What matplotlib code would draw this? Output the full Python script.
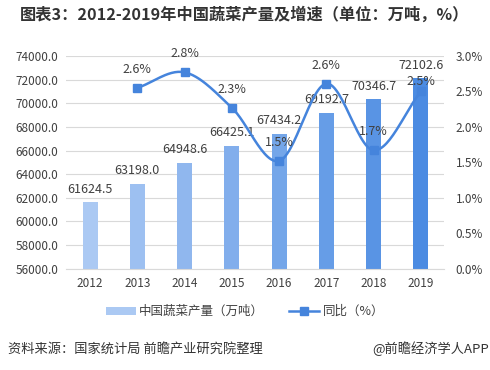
import numpy as np
import matplotlib.pyplot as plt
from matplotlib.colors import LinearSegmentedColormap

plt.rcParams['font.family'] = ['Noto Sans CJK SC', 'DejaVu Sans']

# data
years = ['2012', '2013', '2014', '2015', '2016', '2017', '2018', '2019']
output = [61624.5, 63198.0, 64948.6, 66425.1, 67434.2, 69192.7, 70346.7, 72102.6]
growth = [None, 2.55, 2.77, 2.27, 1.52, 2.61, 1.67, 2.50]
growth_labels = ['', '2.6%', '2.8%', '2.3%', '1.5%', '2.6%', '1.7%', '2.5%']


# Catmull-Rom spline for the smooth line
def smooth(x, y, n=30):
    x = np.asarray(x, float)
    y = np.asarray(y, float)
    px = np.concatenate([[2 * x[0] - x[1]], x, [2 * x[-1] - x[-2]]])
    py = np.concatenate([[2 * y[0] - y[1]], y, [2 * y[-1] - y[-2]]])
    xs, ys = [], []
    t = np.linspace(0, 1, n)
    for i in range(1, len(px) - 2):
        for p, out in ((px, xs), (py, ys)):
            p0, p1, p2, p3 = p[i - 1], p[i], p[i + 1], p[i + 2]
            out.append(0.5 * (2 * p1 + (-p0 + p2) * t
                              + (2 * p0 - 5 * p1 + 4 * p2 - p3) * t ** 2
                              + (-p0 + 3 * p1 - 3 * p2 + p3) * t ** 3))
    return np.concatenate(xs), np.concatenate(ys)


fig = plt.figure(figsize=(4.9, 3.7), dpi=100)
ax = fig.add_axes([0.1357, 0.2738, 0.7714, 0.5748])
ax2 = ax.twinx()

x = np.arange(len(years))
cmap = LinearSegmentedColormap.from_list('b', ['#abc9f3', '#4b8be2'])
colors = [cmap(i / (len(years) - 1)) for i in range(len(years))]
bars = ax.bar(x, output, width=0.32, color=colors, zorder=2, label='中国蔬菜产量（万吨）')
for xi, v in zip(x, output):
    ax.text(xi, v + 550, f'{v:.1f}', ha='center', va='bottom', fontsize=9,
            color='#404040', zorder=5)

ax.set_ylim(56000, 74000)
ax.set_yticks(np.arange(56000, 74001, 2000))
ax.set_yticklabels([f'{v:.1f}' for v in np.arange(56000, 74001, 2000)])
ax.set_xlim(-0.5, len(years) - 0.5)
ax.set_xticks(x)
ax.set_xticklabels(years)
ax.grid(axis='y', color='#d9d9d9', linewidth=0.8, zorder=0)
ax.set_axisbelow(True)

gx = x[1:]
gy = [g for g in growth if g is not None]
sx, sy = smooth(gx, gy)
line_color = '#4584dc'
ax2.plot(sx, sy, color=line_color, linewidth=1.8, zorder=3)
ax2.plot(gx, gy, 's', color=line_color, markersize=5.5, zorder=4)
ax2.plot([], [], '-s', color=line_color, linewidth=1.8, markersize=5.5, label='同比（%）')
for xi, yi, lab in zip(gx, gy, growth_labels[1:]):
    dy = 0.05 if lab == '2.5%' else 0.17
    ax2.text(xi, yi + dy, lab, ha='center', va='bottom', fontsize=9, color='#404040', zorder=5)
ax2.set_ylim(0, 3.0)
ax2.set_yticks(np.arange(0, 3.01, 0.5))
ax2.set_yticklabels([f'{v:.1f}%' for v in np.arange(0, 3.01, 0.5)])

for a in (ax, ax2):
    for s in a.spines.values():
        s.set_visible(False)
    a.tick_params(length=0, labelsize=8.5, colors='#404040')
ax.spines['bottom'].set_visible(True)
ax.spines['bottom'].set_color('#d9d9d9')
ax.tick_params(axis='x', pad=6)
ax.tick_params(axis='y', pad=6)
ax2.tick_params(axis='y', pad=8)

h1, l1 = ax.get_legend_handles_labels()
h2, l2 = ax2.get_legend_handles_labels()
fig.legend(h1 + h2, l1 + l2, loc='center', bbox_to_anchor=(0.5, 0.158), ncol=2,
           frameon=False, fontsize=9, handlelength=2.4, handleheight=0.6,
           columnspacing=2, handletextpad=0.3, labelcolor='#404040')

fig.text(0.041, 0.962, '图表3：2012-2019年中国蔬菜产量及增速（单位：万吨，%）',
         fontsize=11.7, fontweight='bold', color='#333333', va='center')
fig.text(0.016, 0.057, '资料来源：国家统计局 前瞻产业研究院整理', fontsize=9.5,
         color='#333333', va='center')
fig.text(0.998, 0.057, '@前瞻经济学人APP', fontsize=9.5, color='#333333',
         va='center', ha='right')

fig.savefig('out.png', dpi=100)
